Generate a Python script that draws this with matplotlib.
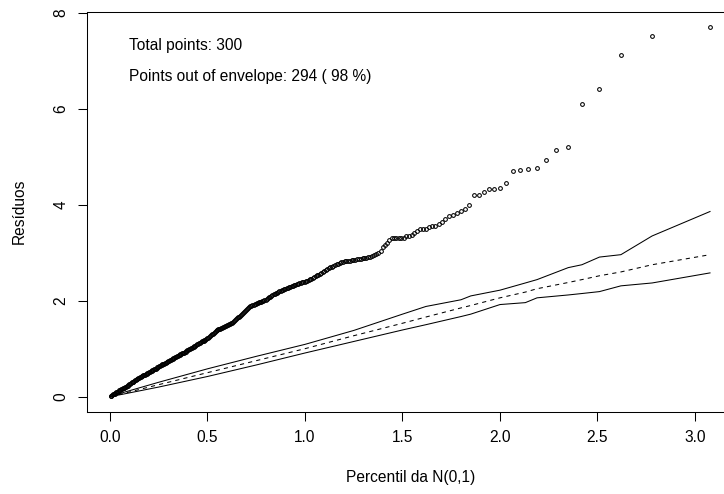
from statistics import NormalDist
import numpy as np
import matplotlib
matplotlib.use("Agg")
import matplotlib.pyplot as plt

plt.rcParams['font.family'] = ['Liberation Sans', 'DejaVu Sans']

# sorted absolute residuals, 300 points
residuos = [
    0.01, 0.02, 0.03, 0.05, 0.06, 0.06, 0.07, 0.09, 0.10, 0.10, 0.12, 0.13,
    0.13, 0.15, 0.16, 0.17, 0.18, 0.18, 0.20, 0.21, 0.22, 0.23, 0.25, 0.26,
    0.27, 0.28, 0.30, 0.31, 0.31, 0.33, 0.34, 0.35, 0.36, 0.37, 0.39, 0.39,
    0.40, 0.41, 0.42, 0.43, 0.45, 0.45, 0.46, 0.47, 0.48, 0.49, 0.50,
    0.51, 0.52, 0.53, 0.53, 0.55, 0.56, 0.57, 0.58, 0.58, 0.60, 0.61, 0.62,
    0.63, 0.64, 0.65, 0.66, 0.67, 0.68, 0.69, 0.70, 0.71, 0.72, 0.73, 0.74,
    0.75, 0.76, 0.77, 0.78, 0.79, 0.80, 0.81, 0.82, 0.83, 0.84, 0.85, 0.86,
    0.87, 0.88, 0.89, 0.90, 0.91, 0.92, 0.93, 0.94, 0.95, 0.97,
    0.98, 0.99, 1.00, 1.01, 1.02, 1.03, 1.04, 1.05, 1.06, 1.08, 1.09, 1.10,
    1.11, 1.12, 1.13, 1.15, 1.16, 1.17, 1.18, 1.19, 1.21, 1.22,
    1.23, 1.25, 1.27, 1.28, 1.30, 1.31, 1.33, 1.34, 1.36, 1.38,
    1.39, 1.40, 1.41, 1.42, 1.43, 1.44, 1.45, 1.46, 1.47, 1.48,
    1.49, 1.50, 1.51, 1.52, 1.53, 1.54, 1.56, 1.57, 1.59, 1.61,
    1.63, 1.65, 1.67, 1.69, 1.71, 1.73, 1.75, 1.77, 1.79, 1.81,
    1.83, 1.85, 1.87, 1.89, 1.90,
    1.91, 1.92, 1.93, 1.94, 1.95, 1.96, 1.97, 1.97, 1.98, 1.99, 2.00, 2.01, 2.02,
    2.04, 2.05, 2.07, 2.08, 2.10, 2.11, 2.13, 2.14, 2.16, 2.17, 2.19, 2.20,
    2.21, 2.22, 2.23, 2.24, 2.25,
    2.26, 2.27, 2.28, 2.29, 2.30, 2.31, 2.32, 2.33, 2.34, 2.35, 2.36, 2.37,
    2.38, 2.39, 2.40,
    2.41, 2.42, 2.43, 2.45, 2.46, 2.48, 2.49, 2.51, 2.53, 2.54, 2.56, 2.58,
    2.60, 2.62,
    2.64, 2.66, 2.68, 2.70, 2.71, 2.73, 2.75, 2.76, 2.77, 2.78, 2.80, 2.81,
    2.82, 2.82, 2.83, 2.83, 2.84, 2.85, 2.85, 2.86, 2.87, 2.88, 2.89,
    2.90, 2.90, 2.91, 2.92, 2.94, 2.96, 2.98, 2.99, 3.03,
    3.12, 3.16, 3.21, 3.27, 3.30, 3.30, 3.30, 3.30, 3.30, 3.31, 3.34, 3.35,
    3.36, 3.41, 3.46, 3.49, 3.50, 3.50, 3.53, 3.55, 3.56, 3.60, 3.65, 3.70,
    3.77, 3.79, 3.83, 3.87, 3.92, 3.99, 4.21, 4.21, 4.27, 4.33, 4.33, 4.36,
    4.45, 4.70, 4.72, 4.75, 4.77, 4.94, 5.14, 5.21, 6.10, 6.41, 7.12, 7.52,
    7.71,
]

# simulated envelope (lower, median, upper)
env_x = [0.003, 0.25, 0.5, 0.75, 1.0, 1.25, 1.5, 1.62, 1.80, 1.85, 2.0,
         2.13, 2.19, 2.35, 2.42, 2.51, 2.62, 2.78, 3.077]
env_lower = [0.00, 0.20, 0.42, 0.66, 0.91, 1.15, 1.39, 1.50, 1.67, 1.72, 1.92,
             1.96, 2.06, 2.12, 2.15, 2.19, 2.31, 2.37, 2.58]
env_mean = [0.00, 0.25, 0.50, 0.75, 1.00, 1.27, 1.53, 1.66, 1.85, 1.90, 2.06,
            2.18, 2.25, 2.38, 2.44, 2.52, 2.60, 2.75, 2.96]
env_upper = [0.01, 0.30, 0.58, 0.84, 1.09, 1.38, 1.72, 1.88, 2.02, 2.10, 2.22,
             2.37, 2.44, 2.69, 2.75, 2.91, 2.96, 3.35, 3.86]

n = len(residuos)
# half-normal quantiles
percentil = [NormalDist().inv_cdf((i + n - 1/8) / (2*n + 1/2)) for i in range(1, n + 1)]
fora = 294

fig = plt.figure(figsize=(7.24, 4.94), dpi=100)
ax = fig.add_axes([86.6/724, (494-411.5)/494, 647.4/724, (411.5-12)/494])

ax.plot(percentil, residuos, 'o', mfc='none', mec='black', ms=2.7, mew=0.75)
ax.plot(env_x, env_lower, color='black', lw=0.75)
ax.plot(env_x, env_upper, color='black', lw=0.75)
ax.plot(env_x, env_mean, color='black', lw=0.75, dashes=(4, 4))

ax.set_xlim(-0.120, 3.200)
ax.set_ylim(-0.31, 8.02)
ax.set_xticks(np.arange(0, 3.01, 0.5))
ax.set_xticklabels([f"{v:.1f}" for v in np.arange(0, 3.01, 0.5)])
ax.set_yticks([0, 2, 4, 6, 8])
ax.set_yticklabels(["0", "2", "4", "6", "8"], rotation=90, va='center')

fs = 11.2
ax.tick_params(direction='out', length=6.8, width=0.75, labelsize=fs, pad=6.5)
for s in ax.spines.values():
    s.set_linewidth(0.75)

ax.set_xlabel("Percentil da N(0,1)", fontsize=fs, labelpad=18)
ax.set_ylabel("Resíduos", fontsize=fs, labelpad=19)

ax.text(0.097, 7.33, f"Total points: {n}", fontsize=fs, va='center', ha='left')
ax.text(0.097, 6.67, f"Points out of envelope: {fora} ( {round(100*fora/n)} %)",
        fontsize=fs, va='center', ha='left')

fig.savefig("out.png", dpi=100)
